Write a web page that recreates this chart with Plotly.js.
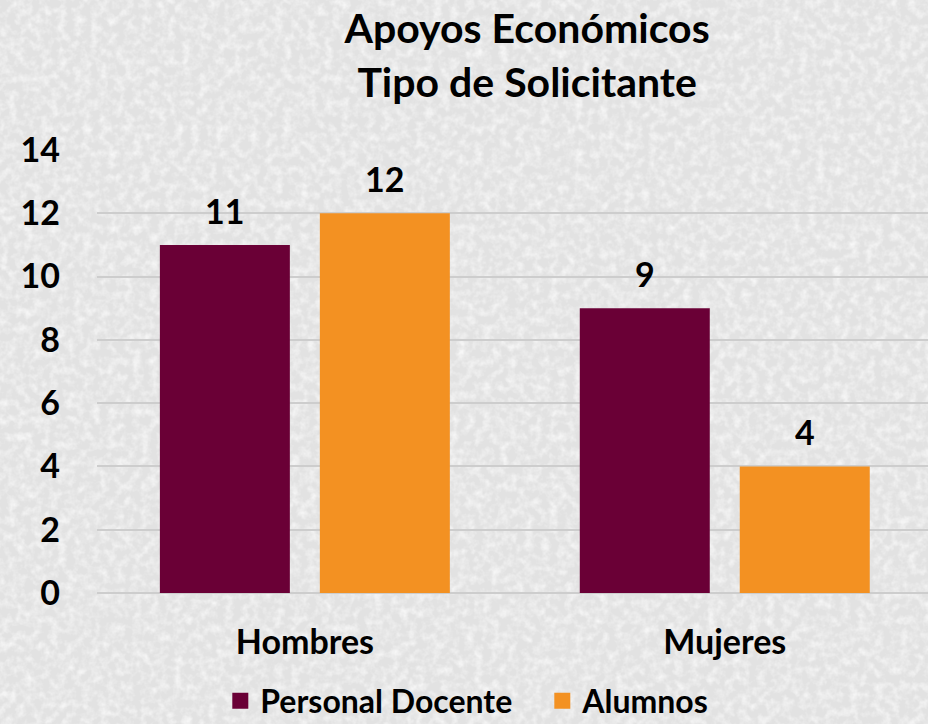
<!DOCTYPE html>
<html><head><meta charset="utf-8">
<script src="https://cdn.plot.ly/plotly-3.0.1.min.js"></script>
<style>
html,body{margin:0;padding:0;}
body{background-color:#e2e2e2;
background-image:url("data:image/svg+xml;utf8,<svg xmlns='http://www.w3.org/2000/svg' width='928' height='724'><filter id='n'><feTurbulence type='fractalNoise' baseFrequency='0.12' numOctaves='3' seed='4'/><feColorMatrix type='matrix' values='0 0 0 0 1  0 0 0 0 1  0 0 0 0 1  0 0 0 1.4 -0.55'/></filter><rect width='100%25' height='100%25' filter='url(%23n)'/></svg>");}
#chart{width:928px;height:724px;}
</style>
</head><body><div id="chart"></div>
<script>
const categories = ["Hombres", "Mujeres"];
const seriesNames = ["Personal Docente", "Alumnos"];
const docente = [11, 9];
const alumnos = [12, 4];
const yTicks = [0, 2, 4, 6, 8, 10, 12, 14];
const colors = ["#6a0036", "#f39122"];

const FONT = "Lato, 'Open Sans', sans-serif";
const BARGAP = 0.238, GROUPGAP = 0.1875;
const series = [docente, alumnos];

const data = [];
series.forEach((vals, s) => {
  data.push({type: "bar", name: seriesNames[s], x: categories, y: vals,
    marker: {color: colors[s], line: {width: 0}}, showlegend: false, hoverinfo: "x+y"});
});
series.forEach((vals, s) => {
  data.push({type: "scatter", mode: "markers", name: seriesNames[s], x: [null], y: [null],
    marker: {symbol: "square", size: 20, color: colors[s]}, showlegend: true});
});

// value labels placed through the axes, above each bar
const slot = (1 - BARGAP) / 2;
const annotations = [];
series.forEach((vals, s) => {
  vals.forEach((v, i) => {
    annotations.push({xref: "x", yref: "y", x: i + (s - 0.5) * slot, y: v, text: String(v),
      showarrow: false, yanchor: "bottom", yshift: 12,
      font: {family: FONT, size: 34, color: "#000", weight: "bold"}});
  });
});

const layout = {
  width: 928, height: 724,
  paper_bgcolor: "rgba(0,0,0,0)", plot_bgcolor: "rgba(0,0,0,0)",
  margin: {l: 97, r: 0, t: 150, b: 131},
  font: {family: FONT, color: "#000", size: 34, weight: "bold"},
  title: {text: "Apoyos Económicos<br>Tipo de Solicitante", x: 0.568, xanchor: "center", xref: "container",
          y: 0.94, yanchor: "middle", yref: "container",
          font: {family: FONT, size: 41, weight: "bold", color: "#000"}},
  barmode: "group", bargap: BARGAP, bargroupgap: GROUPGAP,
  xaxis: {type: "category", range: [-0.495, 1.484], showgrid: false, showline: false, zeroline: false, ticks: "",
          ticklabelstandoff: 26, tickfont: {family: FONT, size: 34, weight: "bold"}},
  yaxis: {range: [0, 14], tickvals: yTicks, ticktext: yTicks.map(String), showgrid: true,
          gridcolor: "#cdcdcd", gridwidth: 1.5, zeroline: true, zerolinecolor: "#cdcdcd", zerolinewidth: 1.5,
          showline: false, ticks: "", ticklabelstandoff: 36,
          tickfont: {family: FONT, size: 34, weight: "bold"}},
  annotations: annotations,
  showlegend: true,
  legend: {orientation: "h", x: 0.2374, xref: "container", xanchor: "left", y: 0.032, yref: "container", yanchor: "middle",
           entrywidth: 277, entrywidthmode: "pixels",
           font: {family: FONT, size: 32, weight: "bold"}, bgcolor: "rgba(0,0,0,0)", itemwidth: 30}
};
Plotly.newPlot("chart", data, layout, {displayModeBar: false});
</script></body></html>
